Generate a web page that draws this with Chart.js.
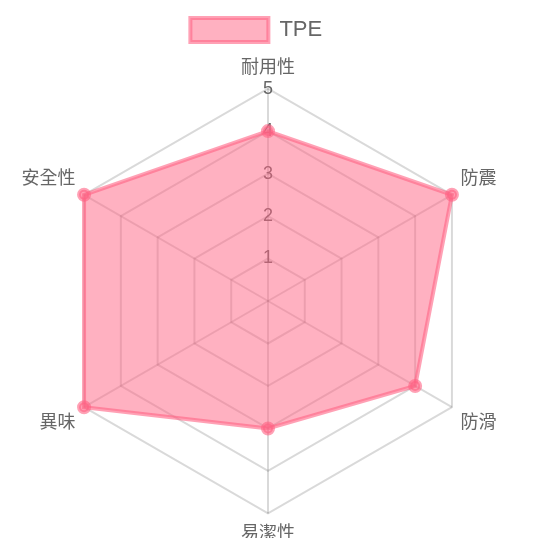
<!DOCTYPE html>
<html>
<head>
<meta charset="utf-8">
<script src="https://cdn.jsdelivr.net/npm/chart.js@4"></script>
<style>
  html, body { margin: 0; padding: 0; background: #fff; overflow: hidden; }
  /* el lienzo es algo mas alto que la ventana: la etiqueta inferior queda cortada como en la original */
  #wrap { width: 543px; height: 546px; margin-left: -3px; }
</style>
</head>
<body>
<div id="wrap"><canvas id="radarChart"></canvas></div>
<script>
// Datos del gráfico
const labels = ['耐用性', '防震', '防滑', '易潔性', '異味', '安全性'];
const seriesName = 'TPE';
const tpeValues = [4, 5, 4, 3, 5, 5];
const tickValues = [0, 1, 2, 3, 4, 5];

Chart.defaults.font.family = "'Liberation Sans', Arial, 'Noto Sans CJK TC', sans-serif";

// Espacio extra debajo de la leyenda
const legendMargin = {
    id: 'legendMargin',
    beforeInit(chart) {
        const originalFit = chart.legend.fit;
        chart.legend.fit = function () {
            originalFit.bind(chart.legend)();
            this.height += 5;
        };
    }
};

const ctx = document.getElementById('radarChart').getContext('2d');
new Chart(ctx, {
    type: 'radar',
    data: {
        labels: labels,
        datasets: [{
            label: seriesName,
            data: tpeValues,
            backgroundColor: 'rgba(255, 99, 132, 0.5)',
            borderColor: 'rgba(255, 99, 132, 0.6)',
            pointBackgroundColor: 'rgba(255, 99, 132, 0.6)',
            pointBorderColor: 'rgba(255, 99, 132, 0.6)',
            borderWidth: 4,
            pointRadius: 5
        }]
    },
    options: {
        responsive: true,
        maintainAspectRatio: false,
        animation: false,
        layout: { padding: { top: 1 } },
        plugins: {
            legend: {
                position: 'top',
                labels: {
                    font: { size: 22 },
                    color: '#666',
                    padding: 17,
                    boxWidth: 78,
                    boxHeight: 24,
                    // espacios al final para correr la leyenda a la izquierda como en la original
                    generateLabels: (chart) => Chart.defaults.plugins.legend.labels.generateLabels(chart)
                        .map(item => ({ ...item, text: item.text + '    ' }))
                }
            }
        },
        scales: {
            r: {
                min: 0,
                max: 5,
                afterBuildTicks: (scale) => {
                    scale.ticks = tickValues.map(v => ({ value: v }));
                },
                ticks: {
                    showLabelBackdrop: false,
                    color: '#666',
                    font: { size: 18 }
                },
                pointLabels: {
                    color: '#666',
                    padding: -1,
                    font: { size: 18 }
                },
                grid: { color: 'rgba(0,0,0,0.15)', lineWidth: 2 },
                angleLines: { color: 'rgba(0,0,0,0.15)', lineWidth: 2 }
            }
        }
    },
    plugins: [legendMargin]
});
</script>
</body>
</html>
